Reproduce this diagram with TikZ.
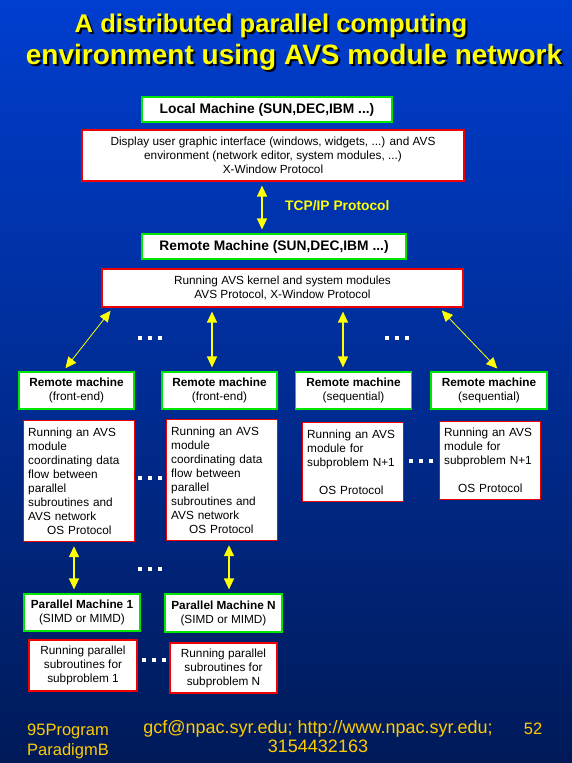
\documentclass[tikz,border=0pt]{standalone}
\usepackage{fontspec}
\setmainfont{Liberation Sans}
\usetikzlibrary{arrows.meta,calc}
\definecolor{bgtop}{RGB}{0,62,208}
\definecolor{bgbot}{RGB}{0,26,88}
\definecolor{boxgreen}{RGB}{0,230,0}
\definecolor{boxred}{RGB}{240,0,0}
\definecolor{arrowyel}{RGB}{255,255,0}
\definecolor{foot}{RGB}{255,204,0}
\newcommand{\shadowtext}[1]{\rlap{\raisebox{-2pt}{\hspace{2pt}\textcolor{black}{#1}}}\textcolor{arrowyel}{#1}}
\tikzset{
  basebox/.style={draw, fill=white, line width=1.2pt, inner sep=2pt, font=\fontsize{11.8}{14}\selectfont, align=center},
  headbox/.style={basebox, draw=boxgreen},
  bighead/.style={headbox, font=\fontsize{13.8}{16}\selectfont\bfseries},
  infobox/.style={basebox, draw=boxred},
  leftinfo/.style={infobox, align=left, anchor=north west, inner xsep=4.6pt, inner ysep=3pt},
  arr/.style={draw=arrowyel, line width=1.4pt, {Triangle[width=10pt,length=11pt]}-{Triangle[width=10pt,length=11pt]}, shorten <=4pt, shorten >=4pt},
  darr/.style={arr, line width=0.8pt},
  titletext/.style={anchor=base, inner sep=0pt},
  foottext/.style={text=foot, font=\fontsize{16.5}{19.5}\selectfont},
}
\newcommand{\dotrow}[2]{%
  \foreach \k in {-10,0,10}{\fill[white] ($(#1,#2)+(\k-1.7,-1.7)$) rectangle ++(3.4,3.4);}}
\begin{document}
\begin{tikzpicture}[x=1pt,y=-1pt]
\shade[top color=bgtop, bottom color=bgbot] (0,0) rectangle (572,763);
\useasboundingbox (0,0) rectangle (572,763);

% title
\node[titletext, font=\fontsize{25.6}{30}\selectfont\bfseries] (title1) at (271,32) {\shadowtext{A distributed parallel computing}};
\node[titletext, font=\fontsize{28}{30}\selectfont\bfseries] (title2) at (294,64) {\shadowtext{environment using AVS module network}};

% top part
\node[bighead, minimum width=250pt, minimum height=25pt] (local) at (267,109.5) {Local Machine (SUN,DEC,IBM ...)};
\node[infobox, minimum width=382pt, minimum height=51pt] (display) at (273,155.5) {Display user graphic interface (windows, widgets, ...) and AVS\\environment (network editor, system modules, ...)\\X-Window Protocol};
\node[bighead, minimum width=264pt, minimum height=25pt] (remote) at (274,246.5) {Remote Machine (SUN,DEC,IBM ...)};
\node[infobox, minimum width=361pt, minimum height=38pt] (kernel) at (282.5,288) {Running AVS kernel and system modules\\AVS Protocol, X-Window Protocol};

\coordinate (tcpx) at (262,0);
\draw[arr] (display.south -| tcpx) -- (remote.north -| tcpx);
\node[text=arrowyel, font=\fontsize{13.8}{16}\selectfont\bfseries, anchor=west, inner sep=0pt] (tcp) at (285,206) {TCP/IP Protocol};

% remote machines
\node[headbox, minimum width=115pt, minimum height=37pt] (rm1) at (76.5,390.5) {\textbf{Remote machine}\\(front-end)};
\node[headbox, minimum width=115pt, minimum height=37pt] (rm2) at (219.5,390.5) {\textbf{Remote machine}\\(front-end)};
\node[headbox, minimum width=116pt, minimum height=37pt] (rm3) at (353.5,390.5) {\textbf{Remote machine}\\(sequential)};
\node[headbox, minimum width=116pt, minimum height=37pt] (rm4) at (489,390.5) {\textbf{Remote machine}\\(sequential)};

\coordinate (k1) at (113,0); \coordinate (r1) at (63,0);
\coordinate (k2) at (212,0);
\coordinate (k3) at (343,0);
\coordinate (k4) at (439,0); \coordinate (r4) at (500,0);
\draw[darr] (kernel.south -| k1) -- (rm1.north -| r1);
\draw[arr] (kernel.south -| k2) -- (rm2.north -| k2);
\draw[arr] (kernel.south -| k3) -- (rm3.north -| k3);
\draw[darr] (kernel.south -| k4) -- (rm4.north -| r4);

% content boxes
\node[leftinfo, text width=101.8pt, minimum height=121pt] (c1) at (23,420) {Running an AVS\\module\\coordinating data\\flow between\\parallel\\subroutines and\\AVS network\\\hspace*{19pt}OS Protocol};
\node[leftinfo, text width=101.8pt, minimum height=121pt] (c2) at (166,419) {Running an AVS\\module\\coordinating data\\flow between\\parallel\\subroutines and\\AVS network\\\hspace*{18pt}OS Protocol};
\node[leftinfo, text width=91.8pt, minimum height=79pt] (c3) at (302,422) {Running an AVS\\module for\\subproblem N+1\\[14pt]\hspace*{12pt}OS Protocol};
\node[leftinfo, text width=91.8pt, minimum height=78pt] (c4) at (439,421) {Running an AVS\\module for\\subproblem N+1\\[14pt]\hspace*{14pt}OS Protocol};

% parallel machines
\node[headbox, minimum width=116pt, minimum height=37pt] (pm1) at (82,612.5) {\textbf{Parallel Machine 1}\\(SIMD or MIMD)};
\node[headbox, minimum width=117pt, minimum height=38pt] (pmN) at (223.5,613) {\textbf{Parallel Machine N}\\(SIMD or MIMD)};
\coordinate (p1x) at (74,0); \coordinate (pNx) at (229,0);
\draw[arr] (c1.south -| p1x) -- (pm1.north -| p1x);
\draw[arr] (c2.south -| pNx) -- (pmN.north -| pNx);

\node[infobox, minimum width=108pt, minimum height=51pt] (p1) at (83,665.5) {Running parallel\\subroutines for\\subproblem 1};
\node[infobox, minimum width=107pt, minimum height=50pt] (pN) at (223.5,668) {Running parallel\\subroutines for\\subproblem N};

% dots
\dotrow{150}{338}
\dotrow{397}{338}
\dotrow{150}{478}
\dotrow{421}{461}
\dotrow{150}{569}
\dotrow{154}{660}

% footer
\node[foottext, anchor=north west, align=left, inner sep=0pt] (prog) at (27,724) {95Program\\ParadigmB};
\node[foottext, font=\fontsize{18}{19.5}\selectfont, anchor=north, align=center, inner sep=0pt] (mail) at (318,720) {gcf@npac.syr.edu; http://www.npac.syr.edu;\\3154432163};
\node[foottext, anchor=north, inner sep=0pt] (page) at (533,723) {52};
\end{tikzpicture}
\end{document}
